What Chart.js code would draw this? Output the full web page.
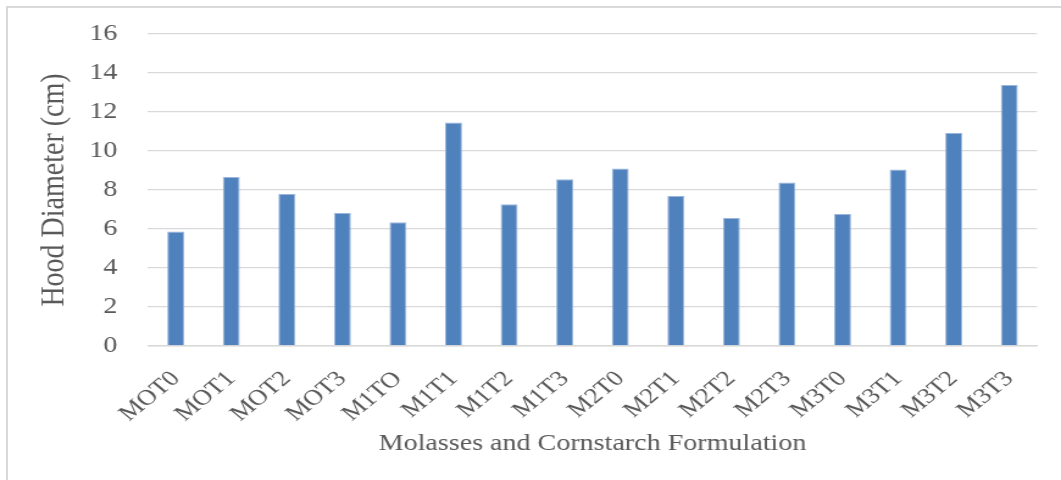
<!DOCTYPE html>
<html>
<head>
<meta charset="utf-8">
<script src="https://cdn.jsdelivr.net/npm/chart.js@4/dist/chart.umd.min.js"></script>
<style>
    html, body { margin: 0; padding: 0; background: #fff; }
    body { width: 1061px; height: 480px; overflow: hidden; position: relative; }
    #frame {
        position: absolute; left: 6px; top: 6px; width: 1100px; height: 500px;
        border-left: 2px solid #d9d9d9; border-top: 2px solid #d9d9d9;
    }
    /* the reference picture is stretched sideways, so the canvas is too */
    #chart {
        position: absolute; left: 0; top: 0;
        transform: scaleX(1.2195); transform-origin: 0 0;
    }
</style>
</head>
<body>
<div id="frame"></div>
<canvas id="chart" width="870" height="480"></canvas>
<script>
const formulations = ['MOT0', 'MOT1', 'MOT2', 'MOT3', 'M1TO', 'M1T1', 'M1T2', 'M1T3',
                      'M2T0', 'M2T1', 'M2T2', 'M2T3', 'M3T0', 'M3T1', 'M3T2', 'M3T3'];
const hoodDiameter = [5.87, 8.67, 7.80, 6.82, 6.34, 11.46, 7.27, 8.55,
                      9.10, 7.69, 6.56, 8.38, 6.77, 9.05, 10.92, 13.38];
const yMin  = 0;
const yMax  = 16;
const yStep = 2;

const serif     = "'Liberation Serif', 'Times New Roman', serif";
const textColor = '#595959';
const lineColor = '#d9d9d9';

function initChart() {
    const ctx = document.getElementById('chart').getContext('2d');
    new Chart(ctx, {
        type: 'bar',
        data: {
            labels: formulations,
            datasets: [{
                data: hoodDiameter,
                backgroundColor: '#4f81bd',
                borderColor: '#9ab6dd',
                borderWidth: 1,
                categoryPercentage: 1,
                barPercentage: 0.305,
            }]
        },
        options: {
            responsive: false,
            devicePixelRatio: 1,
            animation: false,
            layout: {
                padding: { top: 34, right: 19.6, bottom: 0, left: 0 }
            },
            plugins: {
                legend: { display: false },
                tooltip: { enabled: false }
            },
            scales: {
                x: {
                    grid: { display: false, drawTicks: false },
                    border: { display: true, color: lineColor, width: 1.5 },
                    ticks: {
                        color: textColor,
                        font: { family: serif, size: 22 },
                        minRotation: 45,
                        maxRotation: 45,
                        padding: 20,
                        autoSkip: false
                    },
                    title: {
                        display: true,
                        text: 'Molasses and Cornstarch Formulation',
                        color: textColor,
                        font: { family: serif, size: 23 },
                        padding: { top: 0, bottom: 22 }
                    },
                    afterFit: scale => { scale.height = 134; }
                },
                y: {
                    min: yMin,
                    max: yMax,
                    // tick marks kept invisible, only used to push the labels left
                    grid: { color: lineColor, lineWidth: 1.3, drawTicks: true, tickLength: 20, tickColor: 'transparent' },
                    border: { display: false },
                    ticks: {
                        stepSize: yStep,
                        color: textColor,
                        font: { family: serif, size: 23 },
                        padding: 5
                    },
                    title: {
                        display: true,
                        text: 'Hood Diameter (cm)',
                        color: textColor,
                        font: { family: serif, size: 28 },
                        padding: 28
                    },
                    afterFit: scale => { scale.width = 121.3; }
                }
            }
        }
    });
}

initChart();
</script>
</body>
</html>
